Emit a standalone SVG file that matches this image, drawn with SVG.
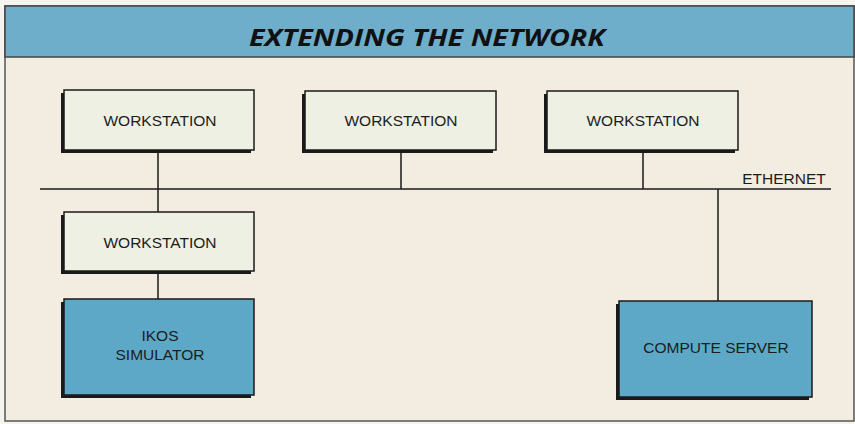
<svg xmlns="http://www.w3.org/2000/svg" width="855" height="424" viewBox="0 0 855 424">
<defs>
<style>
.sh{fill:#1a1a1a}
.ws{fill:#eef0e4;stroke:#1a1a1a;stroke-width:1.5}
.bl{fill:#5da8c6;stroke:#1a1a1a;stroke-width:1.5}
.t{font-family:"Liberation Sans",Arial,sans-serif;font-size:15.5px;fill:#1c1c1c;text-anchor:middle}
.ln{stroke:#1a1a1a;stroke-width:1.5;fill:none}
</style>
</defs>
<rect x="0" y="0" width="855" height="424" fill="#f6f4ef"/>
<rect x="5" y="6" width="849" height="415" fill="#f3ece0" stroke="#555" stroke-width="1.5"/>
<g id="header">
<rect x="5" y="6" width="849" height="51" fill="#6eaecb" stroke="#444" stroke-width="1.5"/>
<text x="427" y="46" font-family="'Open Sans',sans-serif" font-size="23" font-weight="bold" font-style="italic" fill="#111" text-anchor="middle" textLength="356" lengthAdjust="spacingAndGlyphs">EXTENDING THE NETWORK</text>
</g>
<g id="connectors">
<line class="ln" x1="40" y1="189" x2="831" y2="189"/>
<line class="ln" x1="158" y1="150" x2="158" y2="212"/>
<line class="ln" x1="401" y1="150" x2="401" y2="189"/>
<line class="ln" x1="643" y1="150" x2="643" y2="189"/>
<line class="ln" x1="158" y1="271" x2="158" y2="299"/>
<line class="ln" x1="718" y1="189" x2="718" y2="301"/>
<text class="t" x="784" y="184">ETHERNET</text>
</g>
<g id="ws1">
<rect class="sh" x="61" y="93" width="190" height="60"/>
<rect class="ws" x="64" y="90" width="190" height="60"/>
<text class="t" x="160" y="126">WORKSTATION</text>
</g>
<g id="ws2">
<rect class="sh" x="302" y="94" width="191" height="59"/>
<rect class="ws" x="305" y="91" width="191" height="59"/>
<text class="t" x="401" y="126">WORKSTATION</text>
</g>
<g id="ws3">
<rect class="sh" x="544" y="94" width="191" height="59"/>
<rect class="ws" x="547" y="91" width="191" height="59"/>
<text class="t" x="643" y="126">WORKSTATION</text>
</g>
<g id="ws4">
<rect class="sh" x="61" y="215" width="190" height="59"/>
<rect class="ws" x="64" y="212" width="190" height="59"/>
<text class="t" x="160" y="248">WORKSTATION</text>
</g>
<g id="ikos">
<rect class="sh" x="61" y="302" width="190" height="96"/>
<rect class="bl" x="64" y="299" width="190" height="96"/>
<text class="t" x="160" y="341">IKOS</text>
<text class="t" x="160" y="360">SIMULATOR</text>
</g>
<g id="server">
<rect class="sh" x="616" y="304" width="193" height="96"/>
<rect class="bl" x="619" y="301" width="193" height="96"/>
<text class="t" x="716" y="353">COMPUTE SERVER</text>
</g>
</svg>
